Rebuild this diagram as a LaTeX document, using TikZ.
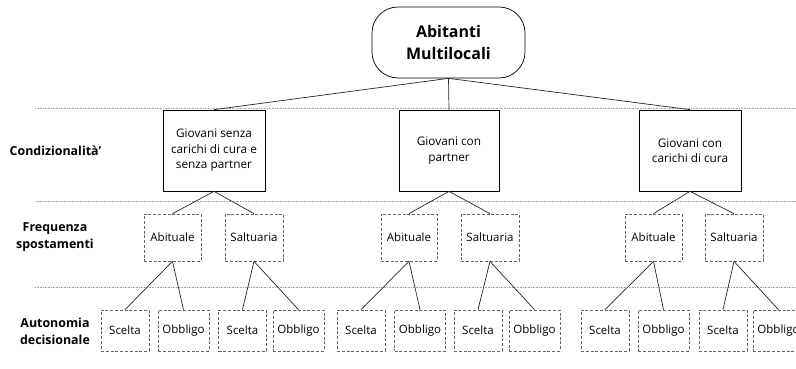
\documentclass[tikz,border=0pt]{standalone}
\usepackage{fontspec}
\setmainfont{Open Sans}
\begin{document}
\begin{tikzpicture}[x=1pt,y=-1pt,
  lvl1/.style={draw, line width=0.7pt, minimum width=102pt, minimum height=81pt, align=center, font=\fontsize{11.8}{15.5}\selectfont, inner sep=1pt},
  lvl2/.style={draw=gray!80!black, dash pattern=on 3pt off 1.8pt, line width=0.7pt, minimum height=47pt, align=center, font=\fontsize{11.5}{14}\selectfont, inner sep=1pt},
  lvl3/.style={draw=gray!80!black, dash pattern=on 3pt off 1.8pt, line width=0.7pt, minimum height=41pt, align=center, font=\fontsize{11.5}{14}\selectfont, inner sep=1pt},
  lab/.style={font=\fontsize{12.4}{17}\selectfont\bfseries, align=center},
  sep/.style={draw=gray!70, densely dotted, line width=0.6pt},
  conn/.style={draw=black!85, line width=0.7pt}]
\clip (0,0) rectangle (796,369);
\useasboundingbox (0,0) rectangle (796,369);

% separators
\coordinate (s1a) at (35,108); \coordinate (s1b) at (796,108);
\coordinate (s2a) at (35,201); \coordinate (s2b) at (796,201);
\coordinate (s3a) at (35,287); \coordinate (s3b) at (796,287);
\draw[sep] (s1a) -- (s1b);
\draw[sep] (s2a) -- (s2b);
\draw[sep] (s3a) -- (s3b);

% labels
\node[lab] (L1) at (55.5,151) {Condizionalità'};
\node[lab] (L2) at (55,237) {Frequenza\\spostamenti};
\node[lab] (L3) at (55,331) {Autonomia\\decisionale};

% top
\node[draw, line width=0.7pt, rounded corners=26pt, minimum width=153pt, minimum height=71pt, align=center, font=\fontsize{16}{22}\selectfont\bfseries] (top) at (448.5,42.5) {Abitanti\\Multilocali};

% level 1
\node[lvl1] (A) at (214,150.5) {Giovani senza\\carichi di cura e\\senza partner};
\node[lvl1, minimum width=100pt] (B) at (449,150.5) {Giovani con\\partner};
\node[lvl1] (C) at (690,150.5) {Giovani con\\carichi di cura};

% level 2
\node[lvl2, minimum width=57pt] (Aa) at (172.5,237.5) {Abituale};
\node[lvl2, minimum width=58pt] (As) at (254,237.5) {Saltuaria};
\node[lvl2, minimum width=56pt] (Ba) at (409,237.5) {Abituale};
\node[lvl2, minimum width=58pt] (Bs) at (490,237.5) {Saltuaria};
\node[lvl2, minimum width=57pt] (Ca) at (653.5,237.5) {Abituale};
\node[lvl2, minimum width=58pt] (Cs) at (734,237.5) {Saltuaria};

% level 3
\node[lvl3, minimum width=48pt] (Aa1) at (125,330.5) {Scelta};
\node[lvl3, minimum width=51pt] (Aa2) at (183.5,330.5) {Obbligo};
\node[lvl3, minimum width=48pt] (As1) at (242.5,330.5) {Scelta};
\node[lvl3, minimum width=51pt] (As2) at (298.5,330.5) {Obbligo};
\node[lvl3, minimum width=48pt] (Ba1) at (361,330.5) {Scelta};
\node[lvl3, minimum width=51pt] (Ba2) at (420,330.5) {Obbligo};
\node[lvl3, minimum width=48pt] (Bs1) at (478,330.5) {Scelta};
\node[lvl3, minimum width=51pt] (Bs2) at (534.5,330.5) {Obbligo};
\node[lvl3, minimum width=48pt] (Ca1) at (605,330.5) {Scelta};
\node[lvl3, minimum width=51pt] (Ca2) at (663.5,330.5) {Obbligo};
\node[lvl3, minimum width=48pt] (Cs1) at (723,330.5) {Scelta};
\node[lvl3, minimum width=51pt] (Cs2) at (778.5,330.5) {Obbligo};

% connectors
\foreach \c in {A,B,C} \draw[conn] (top.south) -- (\c.north);
\foreach \p in {A,B,C} {
  \draw[conn] (\p.south) -- (\p a.north);
  \draw[conn] (\p.south) -- (\p s.north);
  \draw[conn] (\p a.south) -- (\p a1.north);
  \draw[conn] (\p a.south) -- (\p a2.north);
  \draw[conn] (\p s.south) -- (\p s1.north);
  \draw[conn] (\p s.south) -- (\p s2.north);
}
\end{tikzpicture}
\end{document}
